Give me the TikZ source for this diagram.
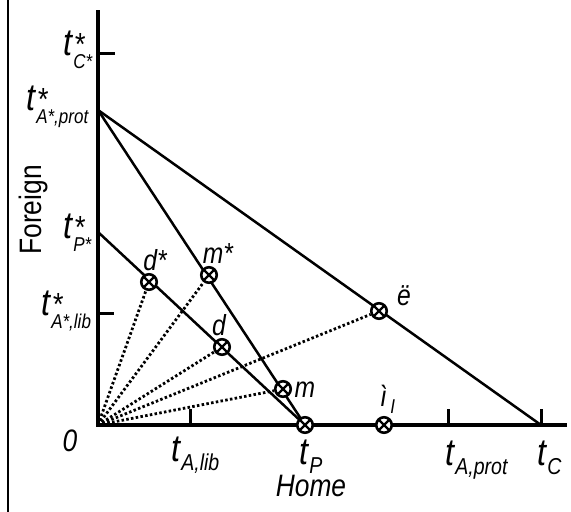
\documentclass[tikz,border=0pt]{standalone}
\usepackage{fontspec}
\setmainfont{Liberation Sans}[FakeStretch=0.85]
\newcommand\tS[1]{\textit{t}\rlap{\kern0.5pt\fontsize{32}{32}\selectfont\textit{*}}\raisebox{-13pt}{\fontsize{20}{20}\selectfont\itshape #1}}
\newcommand\tB[1]{\textit{t}\raisebox{-9pt}{\fontsize{23}{23}\selectfont\itshape #1}}
\tikzset{
  otimes/.style={circle, draw, line width=2.6pt, minimum size=15.5pt, inner sep=0pt, fill=white,
    path picture={\draw[line width=2.3pt] (path picture bounding box.north west) -- (path picture bounding box.south east)
      (path picture bounding box.north east) -- (path picture bounding box.south west);}},
  axis/.style={line width=3.4pt},
  tick/.style={line width=3pt},
  curve/.style={line width=2.5pt},
  dots/.style={line width=2.8pt, dash pattern=on 2.5pt off 2.3pt},
  lab/.style={inner sep=0pt, font=\fontsize{38}{38}\selectfont},
  plab/.style={inner sep=0pt, font=\fontsize{29}{29}\selectfont\itshape},
  big/.style={inner sep=0pt, font=\fontsize{31}{31}\selectfont}
}
\begin{document}
\begin{tikzpicture}[x=1pt,y=-1pt]
\useasboundingbox (0,0) rectangle (571,512);
% frame line
\draw[line width=2pt] (8,0) coordinate (fa) -- (8,512) coordinate (fb);
% axes
\coordinate (O) at (98,425);
\coordinate (Ytop) at (98,10);
\coordinate (Xend) at (567,425);
\coordinate (Astar) at (98,110);
\coordinate (Pstar) at (98,232);
\coordinate (tC) at (541,425);
\coordinate (tP) at (305,425);
\draw[axis] (Ytop) -- (O) -- (Xend);
% ticks
\coordinate (yc1) at (98,53); \coordinate (yc2) at (115,53);
\coordinate (yl1) at (98,313); \coordinate (yl2) at (114,313);
\coordinate (xl1) at (190,425); \coordinate (xl2) at (190,409);
\coordinate (xp1) at (448,425); \coordinate (xp2) at (448,409);
\coordinate (xc1) at (541,425); \coordinate (xc2) at (541,409);
\draw[tick] (yc1) -- (yc2);
\draw[tick] (yl1) -- (yl2);
\draw[tick] (xl1) -- (xl2);
\draw[tick] (xp1) -- (xp2);
\draw[tick] (xc1) -- (xc2);
% lines
\draw[curve] (Astar) -- (tC);
\draw[curve] (Astar) -- (tP);
\draw[curve] (Pstar) -- (tP);
% markers
\node[otimes] (dS) at (149,282) {};
\node[otimes] (mS) at (209,275) {};
\node[otimes] (d) at (222,347) {};
\node[otimes] (e) at (379,311) {};
\node[otimes] (m) at (283,389) {};
\node[otimes] (tPm) at (305,425) {};
\node[otimes] (iI) at (384,425) {};
% dotted rays
\foreach \p in {dS,mS,d,e,m} \draw[dots] (O) -- (\p);
% point labels
\node[plab] (ldS) at (155,260) {d*};
\node[plab] (lmS) at (218,254) {m*};
\node[plab] (ld) at (219,325) {d};
\node[plab] (le) at (404,296) {ë};
\node[plab] (lm) at (305,390) {m};
\node[plab, anchor=base west] (liI) at (380,406) {ì\raisebox{-7pt}{\fontsize{20}{20}\selectfont\itshape\,I}};
% axis labels
\node[lab, anchor=base west] (ltC) at (63,55) {\tS{C*}};
\node[lab, anchor=base west] (ltAp) at (26,110) {\tS{A*,prot}};
\node[lab, anchor=base west] (ltP) at (63,238) {\tS{P*}};
\node[lab, anchor=base west] (ltAl) at (41,315) {\tS{A*,lib}};
\node[lab, anchor=base west] (lAl) at (171,461) {\tB{A,lib}};
\node[lab, anchor=base west] (lP) at (299,464) {\tB{P}};
\node[lab, anchor=base west] (lAp) at (445,465) {\tB{A,prot}};
\node[lab, anchor=base west] (lC) at (537,465) {\tB{C}};
\node[big] (zero) at (70,441) {\textit{0}};
\node[big] (home) at (311,486) {\textit{Home}};
\node[big, rotate=90] (foreign) at (33,210) {Foreign};
\end{tikzpicture}
\end{document}
